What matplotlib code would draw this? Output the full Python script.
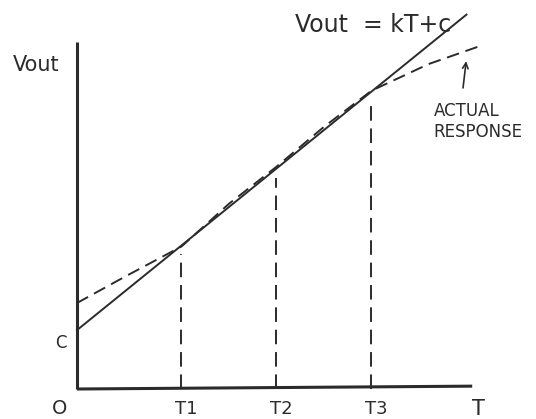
import matplotlib
matplotlib.use("Agg")
import matplotlib.pyplot as plt

# ideal sensor line Vout = kT + c
c = 0.62
k = 0.81
T_end = 4.1

# temperature marks on the T axis
T_marks = [1.1, 2.1, 3.1]
T_names = ["T1", "T2", "T3"]
mark_tops = [1.42, 2.22, 3.01]

# actual (dashed) response
T_act = [0, 0.5, 1.1, 1.6, 2.1, 2.6, 3.1, 3.7, 4.27]
V_act = [0.905, 1.18, 1.50, 1.95, 2.34, 2.76, 3.14, 3.42, 3.62]

ink = "#2b2b2b"

fig = plt.figure(figsize=(5.36, 4.19), dpi=100)
ax = fig.add_axes([0, 0, 1, 1])
ax.set_xlim(-0.8105, 4.8316)
ax.set_ylim(-0.3158, 4.0947)
ax.axis("off")

# axes
ax.plot([0, 0], [0, 3.65], color=ink, lw=2.2, solid_capstyle="butt")
ax.plot([0, 4.16], [0, 0.03], color=ink, lw=2.2, solid_capstyle="butt")

# ideal line
ax.plot([0, T_end], [c, c + k * T_end], color=ink, lw=1.4)

# actual response
ax.plot(T_act, V_act, color=ink, lw=1.4, dashes=(6.5, 3.5))

# vertical markers
for t, top in zip(T_marks, mark_tops):
    ax.plot([t, t], [0, top], color=ink, lw=1.4, dashes=(7.5, 4))

# labels
ax.text(-0.43, 3.41, "Vout", fontsize=15, ha="center", va="center", color=ink)
ax.text(2.3, 3.83, "Vout  = kT+c", fontsize=17, ha="left", va="center", color=ink)
ax.text(3.76, 2.93, "ACTUAL", fontsize=12, ha="left", va="center", color=ink)
ax.text(3.75, 2.70, "RESPONSE", fontsize=12, ha="left", va="center", color=ink)
ax.annotate("", xy=(4.1, 3.48), xytext=(4.06, 3.14),
            arrowprops=dict(arrowstyle="->", color=ink, lw=1.2))
ax.text(-0.17, 0.48, "C", fontsize=12, ha="center", va="center", color=ink)
ax.text(-0.18, -0.21, "O", fontsize=14, ha="center", va="center", color=ink)
for t, name in zip(T_marks, T_names):
    ax.text(t + 0.05, -0.21, name, fontsize=13, ha="center", va="center", color=ink)
ax.text(4.23, -0.21, "T", fontsize=15, ha="center", va="center", color=ink)

fig.savefig("out.png", dpi=100)
